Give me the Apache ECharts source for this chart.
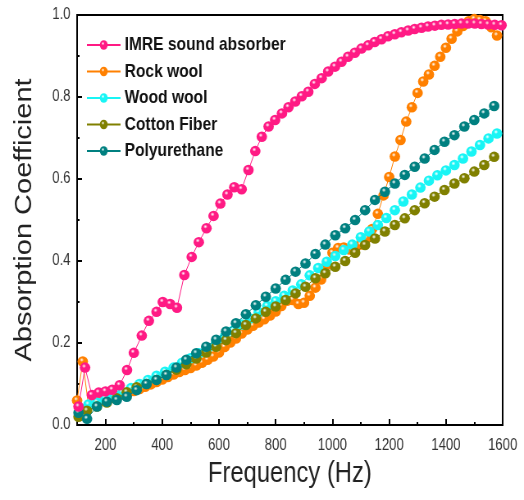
<!DOCTYPE html>
<html>
<head>
<meta charset="utf-8">
<script src="https://cdn.jsdelivr.net/npm/echarts@6/dist/echarts.min.js"></script>
<style>
    html, body { margin: 0; padding: 0; background: #fff; overflow: hidden; }
    /* the original figure is squeezed horizontally, so draw wider and scale down */
    #chart { width: 639px; height: 500px; transform: scaleX(0.82); transform-origin: 0 0; }
</style>
</head>
<body>
<div id="chart"></div>
<script>
    var SQUEEZE = 0.82;

    var seriesNames = ['IMRE sound absorber', 'Rock wool', 'Wood wool', 'Cotton Fiber', 'Polyurethane'];
    var seriesColors = ['#ff1a84', '#ff8000', '#19f5f5', '#808000', '#008080'];

    var xMajorTicks = [200, 400, 600, 800, 1000, 1200, 1400, 1600];
    var xMinorTicks = [300, 500, 700, 900, 1100, 1300, 1500];

    var imreFreq = [105, 128, 152, 176, 200, 224, 250, 276, 300, 328, 353, 380, 402, 428, 452, 478, 504, 529, 556, 581,
        605, 630, 654, 680, 704, 728, 751, 775, 798, 822, 845, 869, 892, 915, 938, 962, 985, 1009, 1032, 1055,
        1079, 1102, 1126, 1149, 1173, 1196, 1220, 1243, 1267, 1290, 1314, 1337, 1361, 1384, 1408, 1431, 1455, 1478, 1502, 1525,
        1549, 1572, 1596];
    var imreAbs = [0.045, 0.14, 0.073, 0.079, 0.082, 0.086, 0.097, 0.134, 0.176, 0.218, 0.254, 0.276, 0.30, 0.295, 0.286, 0.366, 0.41, 0.446, 0.48, 0.51,
        0.54, 0.562, 0.58, 0.575, 0.622, 0.668, 0.703, 0.728, 0.744, 0.76, 0.775, 0.789, 0.802, 0.813, 0.832, 0.846, 0.862, 0.874, 0.886, 0.898,
        0.908, 0.918, 0.926, 0.934, 0.941, 0.948, 0.953, 0.958, 0.962, 0.966, 0.969, 0.972, 0.974, 0.976, 0.977, 0.978, 0.979, 0.979, 0.979, 0.978,
        0.977, 0.976, 0.975];

    var rockFreq = [100, 120, 140, 160, 180, 200, 220, 240, 260, 280, 300, 320, 340, 360, 380, 400, 420, 440, 460, 480,
        500, 520, 540, 560, 580, 600, 620, 640, 660, 680, 700, 720, 740, 760, 780, 800, 820, 840, 860, 880,
        900, 920, 940, 960, 980, 1000, 1020, 1040, 1060, 1080, 1100, 1120, 1140, 1160, 1180, 1200, 1220, 1240, 1260, 1280,
        1300, 1320, 1340, 1360, 1380, 1400, 1420, 1440, 1460, 1480, 1500, 1520, 1540, 1560, 1580];
    var rockAbs = [0.06, 0.155, 0.048, 0.055, 0.058, 0.062, 0.066, 0.07, 0.074, 0.078, 0.083, 0.088, 0.093, 0.099, 0.105, 0.111, 0.117, 0.123, 0.129, 0.134,
        0.139, 0.145, 0.152, 0.159, 0.167, 0.177, 0.19, 0.201, 0.211, 0.223, 0.233, 0.242, 0.25, 0.258, 0.267, 0.277, 0.29, 0.303, 0.305, 0.295,
        0.298, 0.315, 0.335, 0.355, 0.39, 0.42, 0.432, 0.433, 0.428, 0.43, 0.44, 0.455, 0.478, 0.515, 0.56, 0.605, 0.655, 0.695, 0.74, 0.775,
        0.81, 0.838, 0.855, 0.876, 0.898, 0.92, 0.942, 0.96, 0.973, 0.985, 0.99, 0.988, 0.985, 0.97, 0.95];

    var woodFreq = [110, 140, 170, 200, 230, 260, 290, 320, 350, 380, 410, 440, 470, 500, 530, 560, 590, 620, 650, 680,
        710, 740, 770, 800, 830, 860, 890, 920, 950, 980, 1010, 1040, 1070, 1100, 1130, 1160, 1190, 1220, 1250, 1280,
        1310, 1340, 1370, 1400, 1430, 1460, 1490, 1520, 1550, 1580];
    var woodAbs = [0.04, 0.05, 0.055, 0.065, 0.072, 0.08, 0.09, 0.1, 0.11, 0.12, 0.13, 0.14, 0.152, 0.163, 0.175, 0.188, 0.2, 0.215, 0.23, 0.245,
        0.26, 0.275, 0.29, 0.302, 0.315, 0.328, 0.343, 0.365, 0.383, 0.398, 0.412, 0.427, 0.44, 0.458, 0.472, 0.488, 0.505, 0.524, 0.545, 0.562,
        0.579, 0.596, 0.609, 0.621, 0.634, 0.65, 0.667, 0.683, 0.699, 0.711];

    var cottonFreq = [105, 135, 170, 205, 240, 275, 310, 345, 380, 415, 450, 485, 520, 555, 590, 625, 660, 695, 730, 765,
        800, 835, 870, 905, 940, 975, 1010, 1045, 1080, 1115, 1150, 1185, 1220, 1255, 1290, 1325, 1360, 1395, 1430, 1465,
        1500, 1535, 1570];
    var cottonAbs = [0.02, 0.035, 0.045, 0.055, 0.065, 0.08, 0.092, 0.1, 0.11, 0.122, 0.135, 0.148, 0.162, 0.177, 0.191, 0.207, 0.224, 0.244, 0.26, 0.276,
        0.289, 0.305, 0.321, 0.337, 0.358, 0.37, 0.386, 0.40, 0.42, 0.439, 0.455, 0.472, 0.488, 0.504, 0.524, 0.541, 0.557, 0.573, 0.589, 0.602,
        0.618, 0.634, 0.654];

    var polyFreq = [105, 135, 170, 205, 240, 275, 310, 345, 380, 415, 450, 485, 520, 555, 590, 625, 660, 695, 730, 765,
        800, 835, 870, 905, 940, 975, 1010, 1045, 1080, 1115, 1150, 1185, 1220, 1255, 1290, 1325, 1360, 1395, 1430, 1465,
        1500, 1535, 1570];
    var polyAbs = [0.03, 0.015, 0.045, 0.057, 0.061, 0.069, 0.085, 0.10, 0.11, 0.122, 0.14, 0.159, 0.175, 0.191, 0.208, 0.228, 0.248, 0.27, 0.292, 0.313,
        0.333, 0.354, 0.374, 0.394, 0.417, 0.44, 0.463, 0.48, 0.50, 0.524, 0.549, 0.569, 0.589, 0.61, 0.63, 0.65, 0.671, 0.691, 0.707, 0.728,
        0.744, 0.76, 0.778];

    var allFreq = [imreFreq, rockFreq, woodFreq, cottonFreq, polyFreq];
    var allAbs = [imreAbs, rockAbs, woodAbs, cottonAbs, polyAbs];

    function zip(xs, ys){
        var out = [];
        for(var i = 0; i < xs.length; i++){
            out.push([xs[i], ys[i]]);
        }
        return out;
    }

    // glossy ball look of the original markers
    function ball(color){
        return {
            type: 'radial', x: 0.4, y: 0.35, r: 0.65,
            colorStops: [
                {offset: 0, color: 'rgba(255,255,255,0.85)'},
                {offset: 0.3, color: color},
                {offset: 1, color: color}
            ]
        };
    }

    var series = [];
    for(var i = 0; i < seriesNames.length; i++){
        series.push({
            name: seriesNames[i],
            type: 'line',
            data: zip(allFreq[i], allAbs[i]),
            symbol: 'circle',
            symbolSize: [10.5 / SQUEEZE, 10.5],
            z: i === 0 ? 8 : 2 + i,
            lineStyle: {color: seriesColors[i], width: 1},
            itemStyle: {color: ball(seriesColors[i]), borderWidth: 0},
            emphasis: {disabled: true},
            animation: false
        });
    }

    var myChart = echarts.init(document.getElementById('chart'));
    var option = {
        animation: false,
        textStyle: {fontFamily: 'Liberation Sans, Arial, sans-serif'},
        grid: {
            left: 94, right: 26, top: 15, bottom: 75,
            show: true, borderColor: '#000', borderWidth: 2
        },
        legend: {
            data: seriesNames,
            orient: 'vertical',
            left: 100, top: 30,
            itemWidth: 41, itemHeight: 12,
            itemGap: 6.5,
            textStyle: {fontSize: 19, fontWeight: 'bold', color: '#111', lineHeight: 20}
        },
        xAxis: [{
            type: 'value',
            min: 100, max: 1600,
            position: 'bottom',
            name: 'Frequency (Hz)',
            nameLocation: 'middle',
            nameGap: 34,
            nameTextStyle: {fontSize: 29, color: '#222'},
            axisLine: {lineStyle: {color: '#000', width: 2}},
            axisTick: {inside: true, length: 6, customValues: xMajorTicks, lineStyle: {color: '#000', width: 2}},
            axisLabel: {
                customValues: xMajorTicks, fontSize: 16, color: '#333', margin: 13,
                formatter: function(v){ return String(v); }
            },
            splitLine: {show: false}
        }, {
            type: 'value',
            min: 100, max: 1600,
            position: 'bottom',
            axisLine: {show: false},
            axisTick: {inside: true, length: 3, customValues: xMinorTicks, lineStyle: {color: '#000', width: 2}},
            axisLabel: {show: false},
            splitLine: {show: false}
        }],
        yAxis: {
            type: 'value',
            min: 0, max: 1, interval: 0.2,
            name: 'Absorption Coefficient',
            nameLocation: 'middle',
            nameGap: 50,
            nameTextStyle: {fontSize: 29, color: '#222'},
            axisLine: {lineStyle: {color: '#000', width: 2}},
            axisTick: {inside: true, length: 6, lineStyle: {color: '#000', width: 2}},
            minorTick: {show: true, splitNumber: 2, length: 3, lineStyle: {color: '#000', width: 2}},
            axisLabel: {
                fontSize: 16, color: '#333', margin: 8,
                formatter: function(v){ return v.toFixed(1); }
            },
            splitLine: {show: false}
        },
        series: series
    };
    myChart.setOption(option);
</script>
</body>
</html>
